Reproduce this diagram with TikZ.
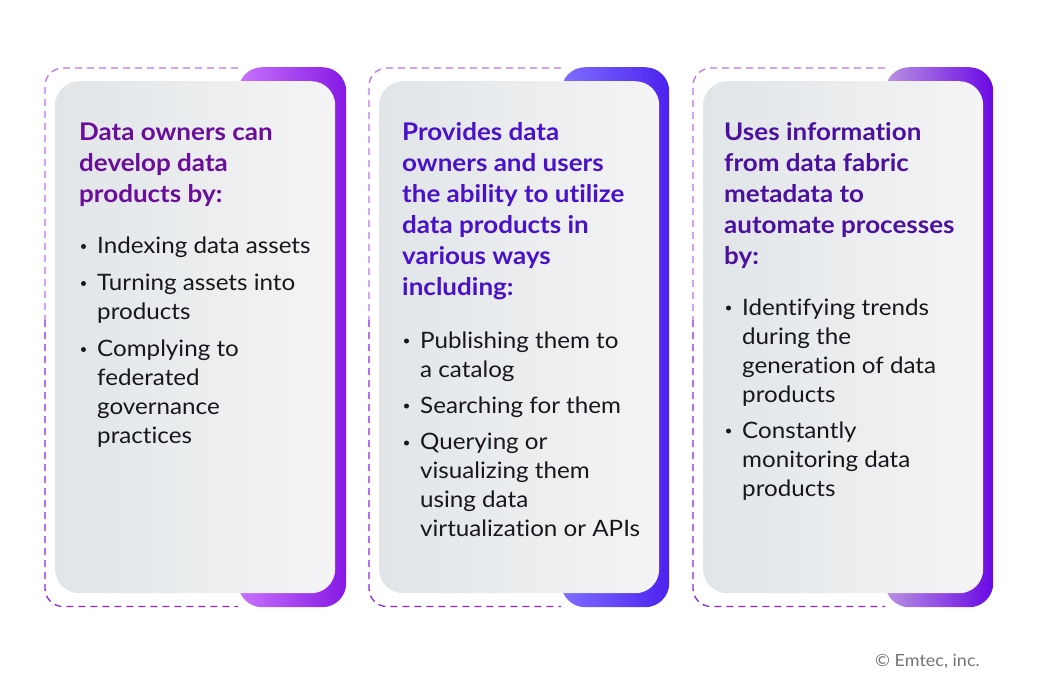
\documentclass[tikz,border=0pt]{standalone}
\usepackage{fontspec}
\setmainfont[FakeStretch=1.07,Ligatures=NoCommon]{Lato}
\usetikzlibrary{positioning}
\definecolor{headA}{HTML}{6A0D9B}
\definecolor{headB}{HTML}{4A12C8}
\definecolor{headC}{HTML}{4B109F}
\definecolor{bodytext}{HTML}{17171C}
\definecolor{cardleft}{HTML}{E1E5E8}
\definecolor{cardright}{HTML}{F4F4F5}
\definecolor{barAleft}{HTML}{C873FC}
\definecolor{barAright}{HTML}{8618E4}
\definecolor{barBleft}{HTML}{7F6EFF}
\definecolor{barBright}{HTML}{4C22EE}
\definecolor{barCleft}{HTML}{B993E2}
\definecolor{barCright}{HTML}{6A08E4}
\definecolor{dashtop}{HTML}{BA72F3}
\definecolor{dashbot}{HTML}{8F25E4}
\tikzset{
    barshape/.style={rounded corners=24pt, minimum width=108pt, minimum height=540pt, inner sep=0pt, anchor=north west},
    cardshape/.style={rounded corners=24pt, minimum width=280pt, minimum height=512pt, inner sep=0pt, anchor=north west,
        left color=cardleft, right color=cardright},
    dashline/.style={line width=1.3pt, dash pattern=on 7pt off 5pt, rounded corners=18pt},
    headtext/.style={anchor=north west, inner sep=0pt, align=left, font=\fontsize{24.3}{31}\selectfont\bfseries, execute at begin node=\strut},
    itemtext/.style={anchor=north west, inner sep=0pt, align=left, text=bodytext, font=\fontsize{22.6}{29}\selectfont,
        execute at begin node=\strut},
    itemdot/.style={circle, fill=bodytext, inner sep=0pt, minimum size=5pt},
}
\begin{document}
\begin{tikzpicture}[x=1pt,y=-1pt]
    \useasboundingbox (0,0) rectangle (1037,694);

    % first card
    \node[barshape, left color=barAleft, right color=barAright] (bar_a) at (238,67) {};
    \coordinate (dash_a_top) at (238,68);
    \coordinate (dash_a_mid) at (45,320);
    \coordinate (dash_a_bot) at (238,606.5);
    \draw[dashline, draw=dashtop] (dash_a_top) -- (45,68) -- (dash_a_mid);
    \draw[dashline, draw=dashbot] (dash_a_mid) -- (45,606.5) -- (dash_a_bot);
    \node[cardshape] (card_a) at (55,81) {};
    \node[headtext, text=headA] (head_a) at (79,122.3) {Data owners can\\develop data\\products by:};
    \node[itemtext] (a_0) at (97,232.7) {Indexing data assets};
    \node[itemtext] (a_1) at (97,273.7) {Turning assets into\\products};
    \node[itemtext] (a_2) at (97,339.7) {Complying to\\federated\\governance\\practices};
    \node[itemdot] (dot_a_0) at (83.5,246.5) {};
    \node[itemdot] (dot_a_1) at (83.5,283.5) {};
    \node[itemdot] (dot_a_2) at (83.5,349.5) {};

    % second card
    \node[barshape, left color=barBleft, right color=barBright] (bar_b) at (561,67) {};
    \coordinate (dash_b_top) at (561,68);
    \coordinate (dash_b_mid) at (369,320);
    \coordinate (dash_b_bot) at (561,606.5);
    \draw[dashline, draw=dashtop] (dash_b_top) -- (369,68) -- (dash_b_mid);
    \draw[dashline, draw=dashbot] (dash_b_mid) -- (369,606.5) -- (dash_b_bot);
    \node[cardshape] (card_b) at (379,81) {};
    \node[headtext, text=headB] (head_b) at (402,122.3) {Provides data\\owners and users\\the ability to utilize\\data products in\\various ways\\including:};
    \node[itemtext] (b_0) at (420,331.2) {Publishing them to\\a catalog};
    \node[itemtext] (b_1) at (420,392.7) {Searching for them};
    \node[itemtext] (b_2) at (420,433.2) {Querying or\\visualizing them\\using data\\virtualization or APIs};
    \node[itemdot] (dot_b_0) at (406.5,341) {};
    \node[itemdot] (dot_b_1) at (406.5,406) {};
    \node[itemdot] (dot_b_2) at (406.5,443) {};

    % third card
    \node[barshape, left color=barCleft, right color=barCright] (bar_c) at (885,67) {};
    \coordinate (dash_c_top) at (885,68);
    \coordinate (dash_c_mid) at (693,320);
    \coordinate (dash_c_bot) at (885,606.5);
    \draw[dashline, draw=dashtop] (dash_c_top) -- (693,68) -- (dash_c_mid);
    \draw[dashline, draw=dashbot] (dash_c_mid) -- (693,606.5) -- (dash_c_bot);
    \node[cardshape] (card_c) at (703,81) {};
    \node[headtext, text=headC] (head_c) at (724,122.3) {Uses information\\from data fabric\\metadata to\\automate processes\\by:};
    \node[itemtext] (c_0) at (742,298.7) {Identifying trends\\during the\\generation of data\\products};
    \node[itemtext] (c_1) at (742,421.7) {Constantly\\monitoring data\\products};
    \node[itemdot] (dot_c_0) at (728.5,308) {};
    \node[itemdot] (dot_c_1) at (728.5,431) {};

    \node[anchor=base east, inner sep=0pt, text=black!55, font=\fontsize{16.8}{20}\selectfont] (credit) at (980,666) {© Emtec, inc.};
\end{tikzpicture}
\end{document}
